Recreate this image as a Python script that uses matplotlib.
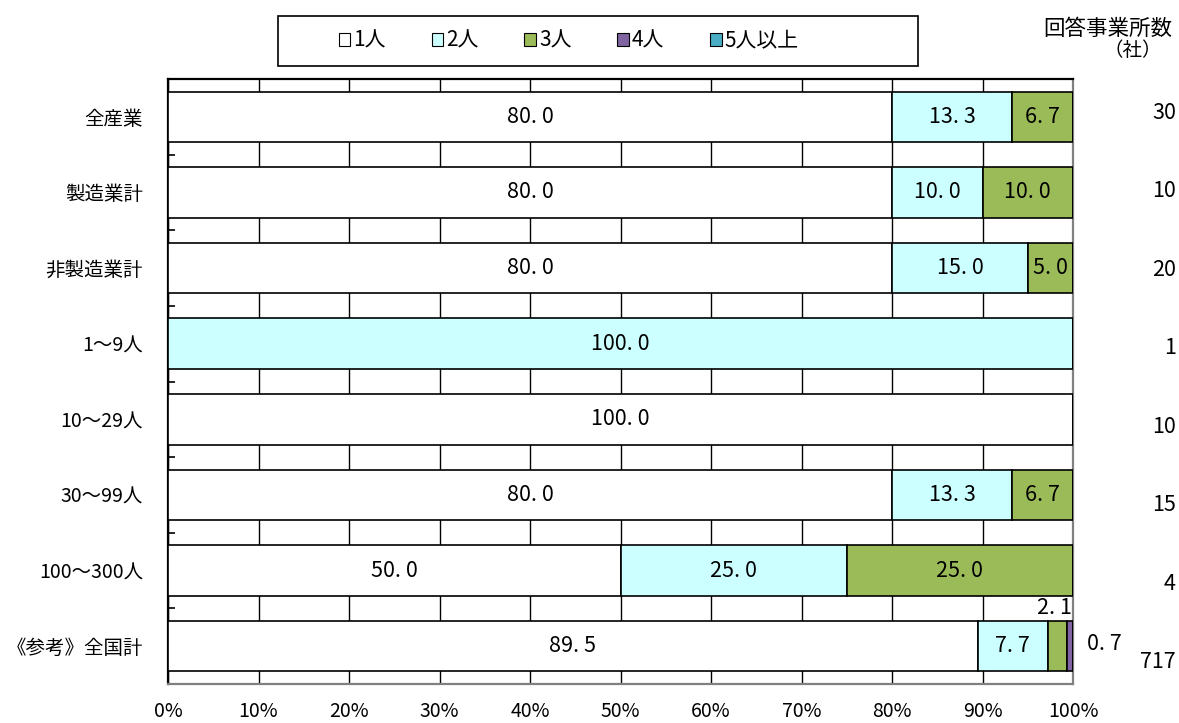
import numpy as np
import matplotlib
matplotlib.use("Agg")
import matplotlib.pyplot as plt
from matplotlib.patches import Patch, Rectangle

plt.rcParams['font.family'] = ['Noto Sans CJK JP', 'DejaVu Sans']
NARROW = ['Liberation Sans Narrow', 'Noto Sans CJK JP', 'DejaVu Sans']

categories = ["全産業", "製造業計", "非製造業計", "1～9人", "10～29人", "30～99人", "100～300人", "《参考》全国計"]
series_names = ["1人", "2人", "3人", "4人", "5人以上"]
p1 = [80.0, 80.0, 80.0, 0.0, 100.0, 80.0, 50.0, 89.5]
p2 = [13.3, 10.0, 15.0, 100.0, 0.0, 13.3, 25.0, 7.7]
p3 = [6.7, 10.0, 5.0, 0.0, 0.0, 6.7, 25.0, 2.1]
p4 = [0.0, 0.0, 0.0, 0.0, 0.0, 0.0, 0.0, 0.7]
p5 = [0.0, 0.0, 0.0, 0.0, 0.0, 0.0, 0.0, 0.0]
counts = [30, 10, 20, 1, 10, 15, 4, 717]
colors = ["#FFFFFF", "#CCFFFF", "#9BBB59", "#8064A2", "#4BACC6"]

series = [p1, p2, p3, p4, p5]


def fmt(v):
    return f"{v:.1f}".replace(".", ". ")


fig = plt.figure(figsize=(11.79, 7.23), dpi=100)
ax = fig.add_axes([168 / 1179, 39 / 723, 905 / 1179, 605 / 723])

n = len(categories)
y = np.arange(n)
left = np.zeros(n)
bar_h = 0.668
for vals, col in zip(series, colors):
    vals = np.array(vals)
    ax.barh(y, vals, left=left, height=bar_h, color=col, edgecolor="black",
            linewidth=1.2, zorder=3)
    for i in range(n):
        v = vals[i]
        if v < 3:
            continue
        ax.text(left[i] + v / 2, y[i], fmt(v), ha="center", va="center",
                fontsize=15.5, family=NARROW, zorder=4)
    left += vals

# small segments of the last row labelled outside the bar
last = n - 1
ax.text(99.9, y[last] - 0.5, fmt(p3[last]), ha="right", va="center",
        fontsize=15.5, family=NARROW, zorder=4)
ax.text(101.5, y[last] - 0.03, fmt(p4[last]), ha="left", va="center",
        fontsize=15.5, family=NARROW, zorder=4, clip_on=False)

ax.set_xlim(0, 100)
ax.set_ylim(n - 0.5, -0.5)
ax.set_xticks(np.arange(0, 101, 10))
ax.set_xticklabels([f"{t}%" for t in range(0, 101, 10)], fontsize=14, family=NARROW)
ax.tick_params(axis="x", length=0, pad=12)
ax.set_yticks(y)
ax.set_yticklabels(categories, fontsize=14, family=NARROW)
ax.tick_params(axis="y", which="major", length=0, pad=18)
ax.set_yticks(np.arange(-0.5, n, 1.0), minor=True)
ax.tick_params(axis="y", which="minor", direction="in", length=5, width=1.2, color="black")
ax.xaxis.grid(True, color="black", linewidth=1.0, zorder=0)
ax.set_axisbelow(True)
for s in ["left", "top"]:
    ax.spines[s].set_color("black")
    ax.spines[s].set_linewidth(1.6)
for s in ["right", "bottom"]:
    ax.spines[s].set_color("#808080")
    ax.spines[s].set_linewidth(1.6)

# count column
fig.text(1172 / 1179, 1 - 29 / 723, "回答事業所数", ha="right", va="center", fontsize=15.5)
fig.text(1162 / 1179, 1 - 51 / 723, "（社）", ha="right", va="center", fontsize=14)
count_y = np.linspace(113, 662, n)
for cy, c in zip(count_y, counts):
    fig.text(1176 / 1179, 1 - cy / 723, str(c), ha="right", va="center",
             fontsize=15.5, family=NARROW)

# legend
fig.patches.append(Rectangle((278 / 1179, 1 - 66 / 723), 640 / 1179, 50 / 723,
                             transform=fig.transFigure, facecolor="white",
                             edgecolor="black", linewidth=1.2))
handles = [Patch(facecolor=c, edgecolor="black", linewidth=0.8) for c in colors]
leg = fig.legend(handles, series_names, loc="center left",
                 bbox_to_anchor=(320 / 1179, 1 - 41 / 723),
                 ncol=5, frameon=False, handlelength=0.55, handleheight=0.55,
                 handletextpad=0.15, columnspacing=2.2,
                 prop={"family": NARROW, "size": 15})

fig.savefig("out.png", dpi=100)
